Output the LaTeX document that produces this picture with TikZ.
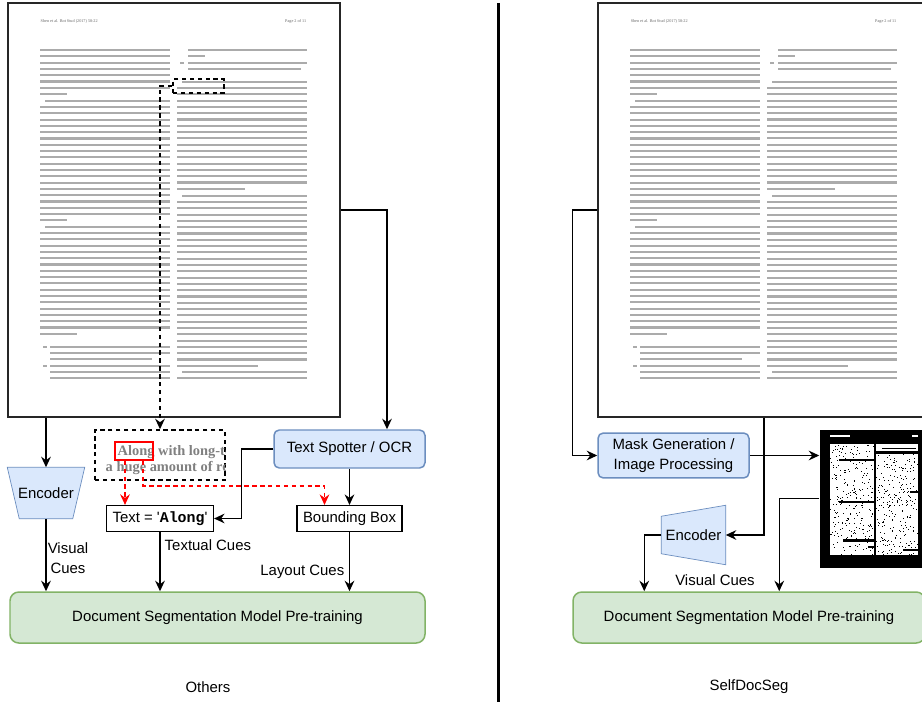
\documentclass[tikz,border=0pt]{standalone}
\usepackage{fontspec}
\setmainfont{Liberation Sans}
\setmonofont{Liberation Mono}
\newfontfamily\pagefont{Liberation Serif}
\usetikzlibrary{arrows.meta,calc,backgrounds}

\definecolor{bluefill}{HTML}{DAE8FC}
\definecolor{blueline}{HTML}{6C8EBF}
\definecolor{greenfill}{HTML}{D5E8D4}
\definecolor{greenline}{HTML}{82B366}
\definecolor{hlred}{HTML}{FF0000}

\newcommand\px{0.02cm}

% text of a scanned page, drawn as grey lines (#1 = prefix for node names)
\newcommand\docpage[1]{%
  \node[pghead, anchor=west] (#1-head) at (32,18) {Shen et al. Bot Stud (2017) 58:22};
  \node[pghead, anchor=east] (#1-num) at (299,18) {Page 2 of 11};
  % first y / lines-1 / end of last line / start of first line / column
  \foreach \ys/\nl/\xe/\xf/\xl/\xr in {47/7/59/32/32/162, 97.7/19/59/37/32/162,
      223.7/17/69/37/32/162, 78.7/17/237/174/169/299, 192.7/27/250/174/169/299}{
    \pgfmathtruncatemacro\nm{\nl-1}
    \draw[pgline] (\xf,\ys) -- (\xr,\ys);
    \foreach \i in {1,...,\nm}
      \draw[pgline] (\xl,{\ys+6.3*\i}) -- (\xr,{\ys+6.3*\i});
    \draw[pgline] (\xl,{\ys+6.3*\nl}) -- (\xe,{\ys+6.3*\nl});
  }
  % list in the left column
  \foreach \i/\xe in {0/162,1/162,2/144,3/162,4/162,5/162}
    \draw[pgline] (42,{343.7+6.3*\i}) -- (\xe,{343.7+6.3*\i});
  \foreach \i in {0,3}
    \draw[pgline] (35,{343.7+6.3*\i}) -- (39,{343.7+6.3*\i});
  % top and bottom of the right column
  \foreach \yy/\xe in {47/299,53.3/197,59.6/299,65.9/293}
    \draw[pgline] (180,\yy) -- (\xe,\yy);
  \draw[pgline] (172,59.6) -- (176,59.6);
  \draw[pgline] (174,369) -- (299,369);
  \draw[pgline] (169,375.3) -- (299,375.3);
}

\begin{document}
\begin{tikzpicture}[x=\px, y=-\px, line width=0.85pt,
    >={Stealth[length=6pt,width=5.5pt,inset=2pt]},
    every node/.style={font=\fontsize{8.5}{10.5}\selectfont},
    docbox/.style={draw=black!85, minimum width=332*\px, minimum height=414*\px},
    pgline/.style={line width=1.2pt, black!33},
    pghead/.style={font=\pagefont\fontsize{2.4}{3}\selectfont, text=black!60, inner sep=0pt},
    zoomtxt/.style={font=\pagefont\bfseries\fontsize{8.2}{9}\selectfont, text=black!50, inner sep=0pt},
    bluebox/.style={draw=blueline, fill=bluefill, rounded corners=3pt},
    greenbox/.style={draw=greenline, fill=greenfill, rounded corners=5pt},
    blackbox/.style={draw},
    dashbox/.style={draw, dash pattern=on 2.5pt off 2pt},
    dasharr/.style={->, dash pattern=on 2.5pt off 2pt},
    redarr/.style={->, draw=hlred, dash pattern=on 2.5pt off 2pt},
    enc/.style={inner sep=0pt},
    encshape/.style={draw=blueline, fill=bluefill}]

\path[use as bounding box] (0,0) rectangle (922,702);
\begin{scope}[on background layer]
  \fill[white] (0,0) rectangle (922,702);
\end{scope}

% ---------------- Others ----------------
\node[docbox] (page1) at (174,210) {};
\begin{scope}[shift={(8,3)}]
  \docpage{p1}
\end{scope}
\node[dashbox, minimum width=51*\px, minimum height=14*\px] (spot) at (198.5,86) {};

\node[dashbox, minimum width=130*\px, minimum height=50*\px] (zoom) at (160,455) {};
\begin{scope}
  \clip (zoom.north west) rectangle (zoom.south east);
  \node[zoomtxt, anchor=base west] (row1) at (117,455) {Along with long-term};
  \node[zoomtxt, anchor=base west] (row2) at (105,471) {a huge amount of results};
\end{scope}
\node[draw=hlred, minimum width=38*\px, minimum height=18*\px] (hl) at (134,451) {};

\node[bluebox, minimum width=151*\px, minimum height=38*\px] (ocr) at (349.5,449) {Text Spotter / OCR};
\node[enc, minimum width=76*\px, minimum height=50*\px] (enc1) at (46,493) {Encoder};
\node[blackbox, minimum width=100*\px, minimum height=25*\px] (txt) at (160,518.5)
  {Text = \textquotesingle\texttt{\textbf{Along}}\textquotesingle};
\node[blackbox, minimum width=101*\px, minimum height=25*\px] (bbox) at (349.5,518.5) {Bounding Box};
\node[greenbox, minimum width=415*\px, minimum height=51*\px] (seg1) at (217.5,617.5)
  {Document Segmentation Model Pre-training};
\node (cap1) at (208,687) {Others};

\draw[->] (page1.south -| enc1.north) -- (enc1.north);
\draw[->] (page1.east) -| ($(ocr.north)+(37.5,0)$);
\draw[dasharr] (spot.west) -| (zoom.north);
\draw[->] (ocr.west) -- ++(-32,0) |- (txt.east);
\draw[->] (ocr.south) -- (bbox.north);
\coordinate (r1) at ($(hl.south)+(-9,0)$);
\coordinate (r2) at ($(hl.south)+(9,0)$);
\draw[redarr] (r1) -- (r1 |- txt.north);
\draw[redarr] (r2) |- ($(bbox.north)+(-25,-19)$) -- ($(bbox.north)+(-25,0)$);
\draw[->] (enc1.south) -- (enc1.south |- seg1.north);
\draw[->] (txt.south) -- (txt.south |- seg1.north);
\draw[->] (bbox.south) -- (bbox.south |- seg1.north);

\node[align=center, font=\fontsize{8.5}{11.3}\selectfont] (vis1) at (68,558) {Visual\\Cues};
\node[anchor=west, inner sep=0pt] (tcue) at (164,545) {Textual Cues};
\node[anchor=east, inner sep=0pt] (lcue) at (345,572) {Layout Cues};

% divider
\draw[line width=1.7pt] (498,3) -- (498,702);

% ---------------- SelfDocSeg ----------------
\node[docbox] (page2) at (764,210) {};
\begin{scope}[shift={(598,3)}]
  \docpage{p2}
\end{scope}

\node[bluebox, align=center, font=\fontsize{8.5}{11}\selectfont,
  minimum width=151*\px, minimum height=37*\px] (mgen) at (673.5,455.5)
  {Mask Generation /\\Image Processing};

\node[fill=black, minimum width=111*\px, minimum height=138*\px] (mask) at (875.5,498.5) {};
\fill[white] (830,435) rectangle (850,437);
\fill[white] (912,435) rectangle (918,437);
\fill[white] (830,444) rectangle (874,555);
\fill[white] (876,444) rectangle (918,451);
\fill[white] (876,454) rectangle (918,555);
\foreach \xa/\ya/\xb/\yb in {839/459/874/461, 839/501/874/503, 843/539/874/542,
    868/546/874/548, 910/491/918/493, 903/549/918/551, 882/447.5/916/448.5}
  \fill (\xa,\ya) rectangle (\xb,\yb);
\pgfmathsetseed{7}
\foreach \k in {1,...,260}{
  \fill ({830+44*rnd},{444+110*rnd}) rectangle ++(0.7,0.7);
  \fill ({876+42*rnd},{454+100*rnd}) rectangle ++(0.7,0.7);
}

\node[enc, minimum width=63*\px, minimum height=58*\px] (enc2) at (693.5,535) {Encoder};
\node[greenbox, minimum width=352*\px, minimum height=51*\px] (seg2) at (749,617.5)
  {Document Segmentation Model Pre-training};
\node (cap2) at (749,687) {SelfDocSeg};
\node (vis2) at (715,580) {Visual Cues};

\draw[->] (page2.west) -- ++(-25,0) |- (mgen.west);
\draw[->] (mgen.east) -- (mgen.east -| mask.west);
\draw[->] (page2.south) |- (enc2.east);
\draw[->] (enc2.west) -| ($(seg2.north west)+(72,0)$);
\draw[->] (mask.west) -| ($(seg2.north west)+(207,0)$);

% encoder outlines
\begin{scope}[on background layer]
  \draw[encshape] (enc1.north west) -- (enc1.north east)
    -- ($(enc1.south east)+(-12,0)$) -- ($(enc1.south west)+(12,0)$) -- cycle;
  \draw[encshape] (enc2.north east) -- (enc2.south east)
    -- ($(enc2.south west)+(0,-11)$) -- ($(enc2.north west)+(0,11)$) -- cycle;
\end{scope}
\end{tikzpicture}
\end{document}
